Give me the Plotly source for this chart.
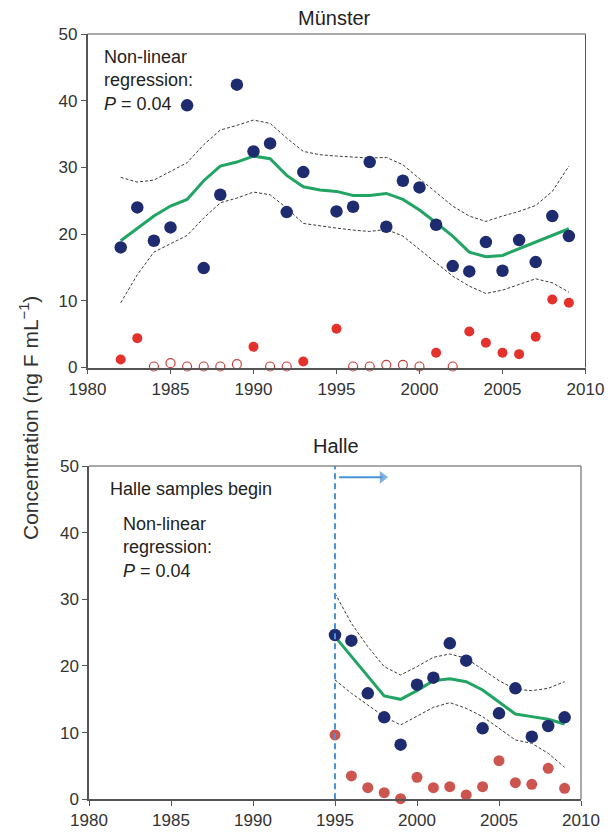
import plotly.graph_objects as go

# ---- Münster ----
ms_years = [1982, 1983, 1984, 1985, 1986, 1987, 1988, 1989, 1990, 1991, 1992, 1993,
            1995, 1996, 1997, 1998, 1999, 2000, 2001, 2002, 2003, 2004, 2005, 2006,
            2007, 2008, 2009]
ms_blue = [18.0, 24.0, 19.0, 21.0, 39.3, 14.9, 25.9, 42.4, 32.4, 33.6, 23.3, 29.3,
           23.4, 24.1, 30.8, 21.1, 28.0, 27.0, 21.4, 15.2, 14.4, 18.8, 14.5, 19.1,
           15.8, 22.7, 19.7]

ms_fit_years = list(range(1982, 2010))
ms_fit = [19.0, 20.9, 22.7, 24.2, 25.2, 28.0, 30.2, 30.8, 31.7, 31.3, 28.8, 27.1, 26.6,
          26.4, 25.8, 25.8, 26.1, 25.2, 23.6, 21.7, 19.7, 17.3, 16.6, 16.8, 17.8, 18.9,
          19.8, 20.8]
ms_upper = [28.5, 27.8, 28.1, 29.4, 30.7, 33.4, 35.6, 36.3, 37.1, 36.6, 34.4, 32.4, 31.9,
            31.7, 31.5, 31.4, 31.5, 30.4, 28.3, 26.2, 24.2, 22.7, 21.9, 22.7, 23.4, 24.3,
            26.4, 30.2]
ms_lower = [9.7, 13.9, 17.3, 18.6, 19.8, 22.4, 24.7, 25.4, 26.3, 25.9, 23.9, 21.6, 21.2,
            20.9, 20.6, 20.4, 20.7, 19.7, 17.7, 15.7, 13.7, 12.2, 11.1, 11.6, 12.4, 13.3,
            12.7, 11.3]

ms_red_years = [1982, 1983, 1990, 1993, 1995, 2001, 2003, 2004, 2005, 2006, 2007, 2008, 2009]
ms_red = [1.2, 4.4, 3.1, 0.9, 5.8, 2.2, 5.4, 3.7, 2.2, 2.0, 4.6, 10.2, 9.7]

ms_open_years = [1984, 1985, 1986, 1987, 1988, 1989, 1991, 1992, 1996, 1997, 1998, 1999,
                 2000, 2002]
ms_open = [0.15, 0.65, 0.15, 0.15, 0.15, 0.5, 0.15, 0.15, 0.15, 0.15, 0.4, 0.4, 0.15, 0.15]

# ---- Halle ----
ha_years = list(range(1995, 2010))
ha_blue = [24.65, 23.8, 15.9, 12.3, 8.2, 17.2, 18.25, 23.4, 20.8, 10.65, 12.9, 16.65,
           9.4, 11.0, 12.3]
ha_fit = [24.4, 21.4, 18.4, 15.5, 15.0, 16.3, 17.8, 18.1, 17.65, 16.4, 14.6, 12.8,
          12.4, 12.0, 11.3]
ha_upper = [30.9, 26.4, 22.9, 19.9, 18.65, 19.9, 21.3, 21.8, 21.15, 19.5, 17.8, 16.5,
            16.3, 16.65, 17.65]
ha_lower = [17.9, 15.9, 14.15, 12.4, 11.15, 12.5, 13.8, 14.5, 13.65, 12.4, 10.65, 8.9,
            8.4, 6.9, 4.8]
ha_red = [9.65, 3.5, 1.75, 1.0, 0.1, 3.3, 1.75, 1.9, 0.65, 1.9, 5.8, 2.5, 2.25, 4.65, 1.65]

halle_start = 1995
arrow_x = [1995.25, 1997.9]
arrow_y = [48.3, 48.3]

x_ticks = [1980, 1985, 1990, 1995, 2000, 2005, 2010]
y_ticks = [0, 10, 20, 30, 40, 50]

NAVY = "#1f2b6f"
GREEN = "#22a463"
DASH = "#3a3a3a"
RED_TOP = "#e5312c"
RED_OPEN = "#c9403b"
RED_BOT = "#cc5550"
BLUE_LINE = "#4a93d6"
FONT = "Liberation Sans, Arial, sans-serif"

W, H = 608, 832

fig = go.Figure()


def add_panel(xa, ya, fit_x, fit, up, lo):
    for band in (up, lo):
        fig.add_trace(go.Scatter(x=fit_x, y=band, mode="lines", xaxis=xa, yaxis=ya,
                                 line=dict(color=DASH, width=1, dash="3px,2px"),
                                 showlegend=False, hoverinfo="skip"))
    fig.add_trace(go.Scatter(x=fit_x, y=fit, mode="lines", xaxis=xa, yaxis=ya,
                             line=dict(color=GREEN, width=3),
                             showlegend=False, hoverinfo="skip"))


# Münster panel
add_panel("x", "y", ms_fit_years, ms_fit, ms_upper, ms_lower)
fig.add_trace(go.Scatter(x=ms_open_years, y=ms_open, mode="markers", xaxis="x", yaxis="y",
                         marker=dict(symbol="circle-open", size=9, color=RED_OPEN,
                                     line=dict(width=1.2, color=RED_OPEN)),
                         showlegend=False, cliponaxis=False))
fig.add_trace(go.Scatter(x=ms_red_years, y=ms_red, mode="markers", xaxis="x", yaxis="y",
                         marker=dict(size=10, color=RED_TOP), showlegend=False,
                         cliponaxis=False))
fig.add_trace(go.Scatter(x=ms_years, y=ms_blue, mode="markers", xaxis="x", yaxis="y",
                         marker=dict(size=12.5, color=NAVY), showlegend=False))

# Halle panel
add_panel("x2", "y2", ha_years, ha_fit, ha_upper, ha_lower)
fig.add_trace(go.Scatter(x=ha_years, y=ha_red, mode="markers", xaxis="x2", yaxis="y2",
                         marker=dict(size=11, color=RED_BOT), showlegend=False,
                         cliponaxis=False))
fig.add_trace(go.Scatter(x=ha_years, y=ha_blue, mode="markers", xaxis="x2", yaxis="y2",
                         marker=dict(size=12.5, color=NAVY), showlegend=False))

# Arrow pointing right from the start of the Halle series
fig.add_trace(go.Scatter(x=arrow_x, y=arrow_y, mode="lines+markers", xaxis="x2", yaxis="y2",
                         line=dict(color=BLUE_LINE, width=2),
                         marker=dict(symbol=["circle", "triangle-right"], size=[0, 11],
                                     color=BLUE_LINE, line=dict(width=0)),
                         showlegend=False, hoverinfo="skip"))

axis_common = dict(
    showgrid=False, zeroline=False, showline=True, linecolor="#555", linewidth=1.5,
    ticks="outside", ticklen=5, tickcolor="#555", tickwidth=1,
    tickfont=dict(size=17, color="#333", family=FONT), mirror=False,
)

fig.update_layout(
    width=W, height=H,
    margin=dict(l=0, r=0, t=0, b=0, autoexpand=False),
    paper_bgcolor="white", plot_bgcolor="white",
    font=dict(family=FONT, color="#333"),
    xaxis=dict(domain=[87.5 / W, 585.5 / W], range=[1980, 2010], tickvals=x_ticks,
               anchor="y", **axis_common),
    yaxis=dict(domain=[1 - 367.5 / H, 1 - 34 / H], range=[0, 50], tickvals=y_ticks,
               anchor="x", **axis_common),
    xaxis2=dict(domain=[89 / W, 581 / W], range=[1980, 2010], tickvals=x_ticks,
                anchor="y2", **axis_common),
    yaxis2=dict(domain=[1 - 799.3 / H, 1 - 466 / H], range=[0, 50], tickvals=y_ticks,
                anchor="x2", **axis_common),
)

# Thin top/right frame lines of each panel
for xr, yr in (("x domain", "y domain"), ("x2 domain", "y2 domain")):
    fig.add_shape(type="line", xref=xr, yref=yr, x0=0, x1=1, y0=1, y1=1,
                  line=dict(color="#555", width=1))
    fig.add_shape(type="line", xref=xr, yref=yr, x0=1, x1=1, y0=0, y1=1,
                  line=dict(color="#555", width=1))

# Start of the Halle series
fig.add_shape(type="line", xref="x2", yref="y2", x0=halle_start, x1=halle_start, y0=0, y1=50,
              line=dict(color=BLUE_LINE, width=2, dash="6px,4px"))

ann_font = dict(family=FONT, size=18, color="#222")
title_font = dict(family=FONT, size=20, color="#222")
fig.add_annotation(xref="paper", yref="paper", x=334 / W, y=1 - 18 / H, text="Münster",
                   showarrow=False, font=title_font, xanchor="center", yanchor="middle")
fig.add_annotation(xref="paper", yref="paper", x=336 / W, y=1 - 446 / H, text="Halle",
                   showarrow=False, font=title_font, xanchor="center", yanchor="middle")
fig.add_annotation(xref="paper", yref="paper", x=102 / W, y=1 - 45 / H,
                   text="Non-linear<br>regression:<br><i>P</i> = 0.04",
                   showarrow=False, align="left", xanchor="left", yanchor="top",
                   font=ann_font)
fig.add_annotation(xref="paper", yref="paper", x=108 / W, y=1 - 489 / H,
                   text="Halle samples begin", showarrow=False, align="left",
                   xanchor="left", yanchor="middle", font=ann_font)
fig.add_annotation(xref="paper", yref="paper", x=121 / W, y=1 - 512 / H,
                   text="Non-linear<br>regression:<br><i>P</i> = 0.04",
                   showarrow=False, align="left", xanchor="left", yanchor="top",
                   font=ann_font)
fig.add_annotation(xref="paper", yref="paper", x=29 / W, y=1 - 418 / H,
                   text="Concentration (ng F mL<sup>\u22121</sup>)", textangle=-90,
                   showarrow=False, xanchor="center", yanchor="middle",
                   font=dict(family=FONT, size=21, color="#333"))

fig.write_html("out.html")
